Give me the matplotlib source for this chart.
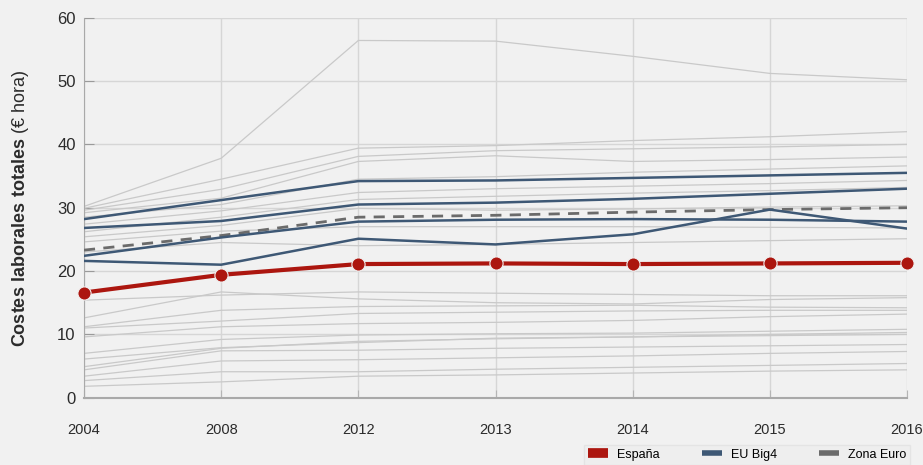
import matplotlib.pyplot as plt
from matplotlib.lines import Line2D

# ------------------------------------------------------------
# datos
# ------------------------------------------------------------
anios = ['2004', '2008', '2012', '2013', '2014', '2015', '2016']

espana = [16.6, 19.4, 21.1, 21.2, 21.1, 21.2, 21.3]
zona_euro = [23.3, 25.6, 28.5, 28.8, 29.3, 29.7, 30.0]

big4_a = [28.2, 31.2, 34.2, 34.3, 34.7, 35.1, 35.5]
big4_b = [26.8, 27.9, 30.5, 30.8, 31.4, 32.2, 33.0]
big4_c = [22.4, 25.3, 27.8, 28.1, 28.2, 28.1, 27.8]
big4_d = [21.6, 21.0, 25.1, 24.2, 25.8, 29.7, 26.7]

# resto de paises UE (lineas grises)
otros_1 = [30.2, 37.8, 56.4, 56.3, 53.9, 51.2, 50.2]
otros_2 = [29.9, 34.5, 39.4, 39.8, 40.6, 41.2, 42.0]
otros_3 = [29.6, 32.9, 38.1, 39.0, 39.3, 39.6, 40.0]
otros_4 = [29.2, 31.5, 37.3, 38.2, 37.3, 37.6, 38.0]
otros_5 = [28.5, 30.5, 34.5, 34.9, 35.6, 36.1, 36.6]
otros_6 = [27.4, 29.5, 32.4, 33.0, 33.4, 33.8, 34.3]
otros_7 = [26.2, 28.5, 31.3, 31.8, 32.3, 32.7, 33.2]
otros_8 = [25.4, 27.2, 29.9, 29.6, 29.8, 30.1, 30.3]
otros_9 = [24.6, 26.3, 27.0, 27.0, 27.0, 26.9, 26.8]
otros_10 = [23.0, 24.5, 24.0, 24.2, 24.5, 24.8, 25.1]
otros_11 = [15.4, 16.2, 16.7, 16.5, 16.3, 16.1, 16.1]
otros_12 = [12.6, 16.7, 15.6, 15.0, 14.8, 15.5, 15.8]
otros_13 = [11.2, 13.8, 14.4, 14.5, 14.6, 14.3, 14.2]
otros_14 = [11.0, 12.1, 13.3, 13.5, 13.7, 13.8, 13.8]
otros_15 = [9.6, 11.2, 11.7, 11.9, 12.2, 12.8, 13.2]
otros_16 = [7.0, 9.2, 9.9, 10.1, 10.2, 10.5, 10.8]
otros_17 = [6.1, 7.9, 8.7, 9.4, 9.6, 10.0, 10.3]
otros_18 = [4.9, 7.8, 8.9, 9.3, 9.6, 9.8, 10.0]
otros_19 = [4.4, 7.4, 7.5, 7.8, 8.0, 8.2, 8.4]
otros_20 = [3.4, 5.8, 6.0, 6.3, 6.6, 7.0, 7.3]
otros_21 = [2.7, 4.1, 4.1, 4.5, 4.8, 5.1, 5.4]
otros_22 = [1.8, 2.5, 3.4, 3.6, 3.9, 4.2, 4.4]

otros = [otros_1, otros_2, otros_3, otros_4, otros_5, otros_6, otros_7,
         otros_8, otros_9, otros_10, otros_11, otros_12, otros_13, otros_14,
         otros_15, otros_16, otros_17, otros_18, otros_19, otros_20,
         otros_21, otros_22]
big4 = [big4_a, big4_b, big4_c, big4_d]

# ------------------------------------------------------------
# estilo
# ------------------------------------------------------------
plt.rcParams.update({
    'font.family': ['Liberation Sans', 'DejaVu Sans'],
    'mathtext.fontset': 'custom',
    'mathtext.bf': 'Liberation Sans:bold',
    'mathtext.rm': 'Liberation Sans',
})

fondo = '#f1f1f1'
rojo = '#ac160f'
azul = '#3e5875'
gris = '#c9c9c9'
gris_osc = '#6b6b6b'

fig = plt.figure(figsize=(9.23, 4.65), dpi=100, facecolor=fondo)
ax = fig.add_axes([0.091, 0.1447, 0.8917, 0.8173])
ax.set_facecolor(fondo)

x = range(len(anios))

for serie in otros:
    ax.plot(x, serie, color=gris, linewidth=0.9, zorder=2)

ax.plot(x, zona_euro, color=gris_osc, linewidth=2, linestyle=(0, (4, 3)), zorder=3)

for serie in big4:
    ax.plot(x, serie, color=azul, linewidth=1.8, zorder=4)

ax.plot(x, espana, color=rojo, linewidth=3, marker='o', markersize=9.5,
        markeredgecolor=fondo, markeredgewidth=0.8, zorder=5, clip_on=False)

# ejes
ax.set_xlim(0, len(anios) - 1)
ax.set_ylim(0, 60)
ax.set_xticks(list(x))
ax.set_xticklabels(anios, fontsize=10.5, color='#2b2b2b')
ax.set_yticks(range(0, 61, 10))
ax.tick_params(axis='y', labelsize=12, labelcolor='#2b2b2b', direction='in',
               length=7, color='#9a9a9a', pad=6)
ax.tick_params(axis='x', direction='in', length=6, color='#b5b5b5', pad=18)

ax.grid(True, color='#d6d6d6', linewidth=1)
ax.set_axisbelow(True)
for s in ['top', 'right']:
    ax.spines[s].set_visible(False)
ax.spines['left'].set_color('#a9a9a9')
ax.spines['bottom'].set_color('#a9a9a9')
ax.spines['bottom'].set_linewidth(1.5)

ax.set_ylabel(r'$\bf{Costes\ laborales\ totales}$ (€ hora)', fontsize=13,
              color='#2b2b2b', labelpad=19)

# leyenda (abajo a la derecha, pegada al borde)
handles = [Line2D([0], [0], color=rojo, linewidth=7, solid_capstyle='butt'),
           Line2D([0], [0], color=azul, linewidth=4, solid_capstyle='butt'),
           Line2D([0], [0], color=gris_osc, linewidth=4, solid_capstyle='butt')]
fig.legend(handles, ['España', 'EU Big4', 'Zona Euro'], loc='upper left',
           bbox_to_anchor=(0.633, 0.043), ncol=3, fontsize=9, frameon=True,
           facecolor='#eeeeee', edgecolor='#e2e2e2', fancybox=False,
           handlelength=1.6, handletextpad=0.7, columnspacing=3.4,
           borderpad=0.3, borderaxespad=0)

fig.savefig('out.png', dpi=100, facecolor=fondo)
